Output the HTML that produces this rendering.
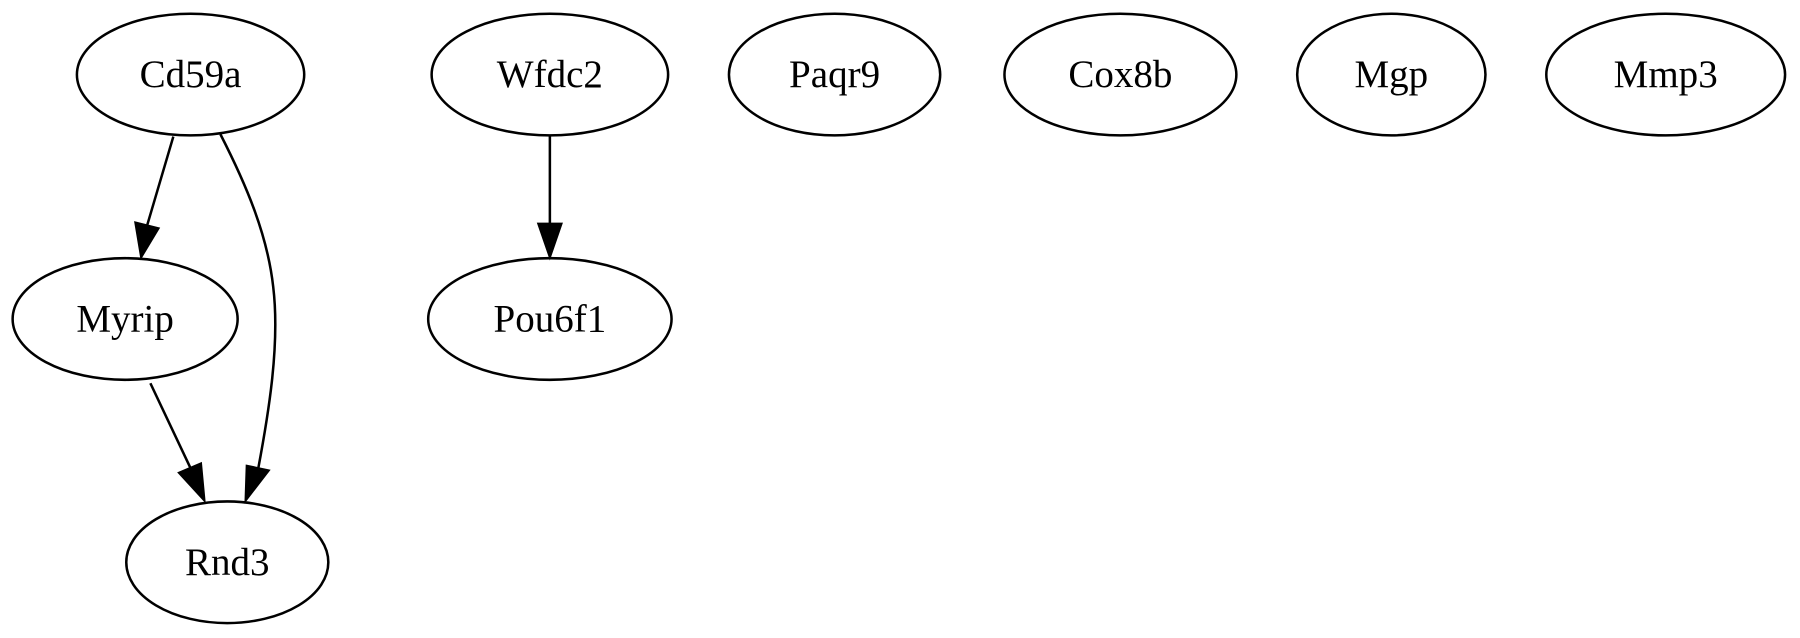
<!DOCTYPE html>
<html><head><meta charset="utf-8"><style>html,body{margin:0;padding:0;background:#fff;}svg{display:block}</style></head>
<body>
<svg width="1800" height="638" viewBox="0 0 1568 556" preserveAspectRatio="none" xmlns="http://www.w3.org/2000/svg">
<g fill="none" stroke="#000" stroke-width="2.2">
<ellipse cx="166" cy="65" rx="99" ry="53"/>
<ellipse cx="479" cy="65" rx="103" ry="53"/>
<ellipse cx="727" cy="65" rx="92" ry="53"/>
<ellipse cx="976" cy="65" rx="101" ry="53"/>
<ellipse cx="1212" cy="65" rx="82" ry="53"/>
<ellipse cx="1451" cy="65" rx="104" ry="53"/>
<ellipse cx="109" cy="278" rx="98" ry="53"/>
<ellipse cx="479" cy="278" rx="106" ry="53"/>
<ellipse cx="198" cy="490" rx="88" ry="53"/>
<path d="M151,119 L128,197"/>
<path d="M192,117 C215,162 233,205 238,250 C244,300 234,360 225,408"/>
<path d="M131,334 L166,408"/>
<path d="M479,119 L479,195"/>
</g>
<g fill="#000" stroke="#000" stroke-width="2">
<polygon points="118,194 138,199 123,224"/>
<polygon points="215,406 234,410 214,436"/>
<polygon points="156,412 175,404 178,436"/>
<polygon points="469,195 489,195 479,224"/>
</g>
<g font-family="Liberation Serif, serif" font-size="34" text-anchor="middle" fill="#000">
<text x="166" y="76">Cd59a</text>
<text x="479" y="76">Wfdc2</text>
<text x="727" y="76">Paqr9</text>
<text x="976" y="76">Cox8b</text>
<text x="1212" y="76">Mgp</text>
<text x="1451" y="76">Mmp3</text>
<text x="109" y="289">Myrip</text>
<text x="479" y="289">Pou6f1</text>
<text x="198" y="501">Rnd3</text>
</g>
</svg>
</body></html>
